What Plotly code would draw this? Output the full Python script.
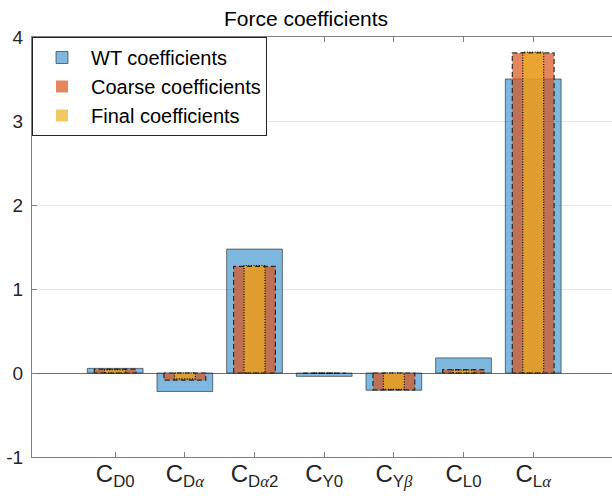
import plotly.graph_objects as go

# ---- data ----
categories = ["C_D0", "C_Dalpha", "C_Dalpha2", "C_Y0", "C_Ybeta", "C_L0", "C_Lalpha"]
tick_labels = [
    "C<sub>D0</sub>",
    "C<sub>D<span style=\"font-family:Liberation Serif\"><i>α</i></span></sub>",
    "C<sub>D<span style=\"font-family:Liberation Serif\"><i>α</i></span>2</sub>",
    "C<sub>Y0</sub>",
    "C<sub>Y<span style=\"font-family:Liberation Serif\"><i>β</i></span></sub>",
    "C<sub>L0</sub>",
    "C<sub>L<span style=\"font-family:Liberation Serif\"><i>α</i></span></sub>",
]
wt_coeffs = [0.055, -0.22, 1.475, -0.04, -0.205, 0.18, 3.50]
coarse_coeffs = [0.045, -0.085, 1.27, -0.005, -0.20, 0.04, 3.81]
final_coeffs = [0.04, -0.07, 1.28, -0.005, -0.195, 0.035, 3.82]
series_names = ["WT coefficients", "Coarse coefficients", "Final coefficients"]
y_ticks = [-1, 0, 1, 2, 3, 4]

# ---- styles ----
x_pos = list(range(1, len(categories) + 1))
widths = [0.8, 0.6, 0.3]
fills = ["rgba(0,114,189,0.5)", "rgba(217,83,25,0.7)", "rgba(237,177,32,0.7)"]
edge_cols = ["rgba(30,30,30,0.6)", "rgba(30,30,30,0.9)", "rgba(0,0,0,0.95)"]
edge_dash = ["solid", "5px,3px", "1px,1.6px"]

fig = go.Figure()
all_series = [wt_coeffs, coarse_coeffs, final_coeffs]

for i, vals in enumerate(all_series):
    fig.add_trace(go.Bar(
        x=x_pos, y=vals, width=[widths[i]] * len(vals), name=series_names[i],
        marker=dict(color=fills[i], line=dict(color=edge_cols[i], width=1 if i == 0 else 0)),
        legendgroup=series_names[i],
    ))

for i, vals in enumerate(all_series):
    if i == 0:
        continue
    xs, ys = [], []
    for xc, v in zip(x_pos, vals):
        l, r = xc - widths[i] / 2, xc + widths[i] / 2
        xs += [l, l, r, r, l, None]
        ys += [0, v, v, 0, 0, None]
    fig.add_trace(go.Scatter(
        x=xs, y=ys, mode="lines", showlegend=False, legendgroup=series_names[i],
        line=dict(color=edge_cols[i], width=1.2, dash=edge_dash[i]), hoverinfo="skip",
    ))

fig.update_layout(
    template="none",
    width=612, height=504,
    margin=dict(l=32, r=0, t=37, b=47),
    barmode="overlay",
    paper_bgcolor="white", plot_bgcolor="white",
    font=dict(family="Liberation Sans, Arial, sans-serif", color="#262626"),
    title=dict(text="Force coefficients", x=306 / 612, xref="container", xanchor="center",
               y=1 - 19 / 504, yref="container", yanchor="middle",
               font=dict(size=21, color="#000000")),
    showlegend=True,
    legend=dict(x=0, y=1, xanchor="left", yanchor="top", bgcolor="white",
                bordercolor="#262626", borderwidth=1, font=dict(size=20, color="#000000"),
                traceorder="normal", tracegroupgap=0, itemwidth=48),
)
fig.update_xaxes(
    range=[-0.194, 8.131], tickvals=x_pos, ticktext=tick_labels,
    showline=True, linecolor="#808080", linewidth=1, mirror="ticks",
    ticks="inside", ticklen=5, tickcolor="#808080",
    showgrid=False, zeroline=False, tickfont=dict(size=24, color="#262626"),
    ticklabelstandoff=-5,
)
fig.update_yaxes(
    range=[-1, 4], tickvals=y_ticks, ticktext=[str(t) for t in y_ticks],
    showline=True, linecolor="#808080", linewidth=1, mirror=False,
    ticks="inside", ticklen=5, tickcolor="#808080",
    showgrid=True, gridcolor="#e6e6e6", gridwidth=1,
    zeroline=True, zerolinecolor="#6e6e6e", zerolinewidth=1,
    tickfont=dict(size=19, color="#262626"), ticklabelstandoff=4,
)

fig.write_html("out.html")
